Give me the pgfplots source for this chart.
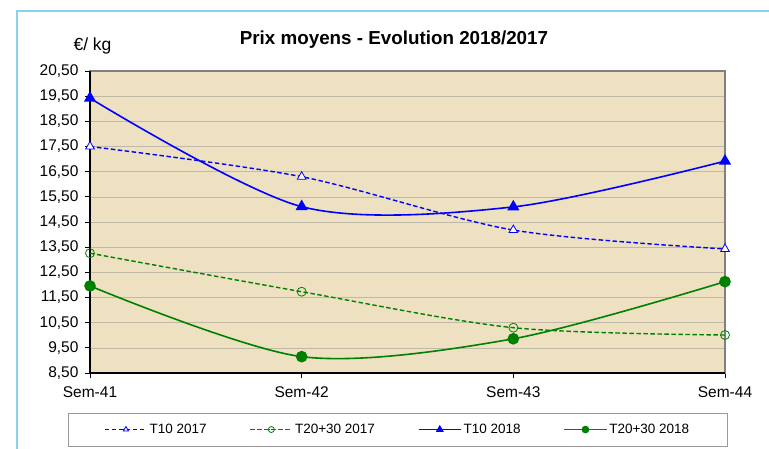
\documentclass[border=0pt]{standalone}
\usepackage{fontspec}
\setmainfont{Liberation Sans}
\usepackage{pgfplots}
\pgfplotsset{compat=1.18}
\definecolor{parch}{RGB}{237,225,194}
\definecolor{frameblue}{RGB}{140,210,240}
\definecolor{gbl}{RGB}{0,0,255}
\definecolor{ggr}{RGB}{0,128,0}
\definecolor{gridc}{RGB}{192,185,170}
\begin{document}
\begin{tikzpicture}[x=1pt,y=1pt]
\useasboundingbox (0,0) rectangle (769,448);
\draw[frameblue, line width=2pt] (17,437) rectangle (800,-20);
\node[font=\fontsize{18.8}{22}\selectfont\bfseries] at (394,408) {Prix moyens - Evolution 2018/2017};
\node[font=\fontsize{17.5}{20}\selectfont] at (92.5,402) {€/ kg};
\begin{axis}[
  at={(90pt,75pt)}, anchor=south west,
  scale only axis, width=635pt, height=302pt,
  xmin=0, xmax=3, ymin=8.5, ymax=20.5,
  clip=false,
  axis background/.style={fill=parch},
  xtick={0,1,2,3}, xticklabels={Sem-41,Sem-42,Sem-43,Sem-44},
  ytick={8.5,9.5,10.5,11.5,12.5,13.5,14.5,15.5,16.5,17.5,18.5,19.5,20.5},
  ticklabel style={font=\fontsize{15.5}{18}\selectfont},
  yticklabel style={xshift=-3pt, /pgf/number format/.cd, fixed, fixed zerofill, precision=2, use comma, assume math mode=true},
  xticklabel style={yshift=-5pt},
  xtick pos=bottom, ytick pos=left, tick align=outside,
  major tick length=5pt,
  tick style={black, line width=0.8pt},
  ymajorgrids, major grid style={gridc, line width=0.4pt},
  axis line style={gray, line width=1.2pt},
  legend style={at={(-0.0346,-0.132)}, anchor=north west, draw=gray!80, fill=white,
    font=\fontsize{13.5}{16}\selectfont, legend columns=4, inner xsep=36pt, inner ysep=9pt,
    /tikz/every even column/.append style={column sep=41pt}},
  legend cell align=left,
  legend image code/.code={\draw[mark repeat=2,mark phase=2,mark size=3pt] plot coordinates {(0pt,0pt)(21pt,0pt)(42pt,0pt)};},
]
\draw[black, line width=1.3pt] (rel axis cs:0,1) -- (rel axis cs:0,0) -- (rel axis cs:1,0);
\addplot[gbl, line width=1.4pt, dash pattern=on 4.5pt off 2.5pt, smooth, mark=triangle*, mark size=5pt,
  mark options={solid, fill=white, draw=gbl, line width=0.8pt}]
  coordinates {(0,17.50)(1,16.30)(2,14.18)(3,13.43)};
\addlegendentry{T10 2017}
\addplot[ggr, line width=1.4pt, dash pattern=on 4.5pt off 2.5pt, smooth, mark=o, mark size=4.5pt,
  mark options={solid, fill=none, draw=ggr, line width=0.8pt}]
  coordinates {(0,13.26)(1,11.73)(2,10.30)(3,10.01)};
\addlegendentry{T20+30 2017}
\addplot[gbl, line width=1.6pt, smooth, mark=triangle*, mark size=5.5pt,
  mark options={solid, fill=gbl, draw=gbl}]
  coordinates {(0,19.42)(1,15.11)(2,15.10)(3,16.92)};
\addlegendentry{T10 2018}
\addplot[ggr, line width=1.6pt, smooth, mark=*, mark size=5pt,
  mark options={solid, fill=ggr, draw=ggr}]
  coordinates {(0,11.96)(1,9.15)(2,9.86)(3,12.13)};
\addlegendentry{T20+30 2018}
\end{axis}
\end{tikzpicture}
\end{document}
